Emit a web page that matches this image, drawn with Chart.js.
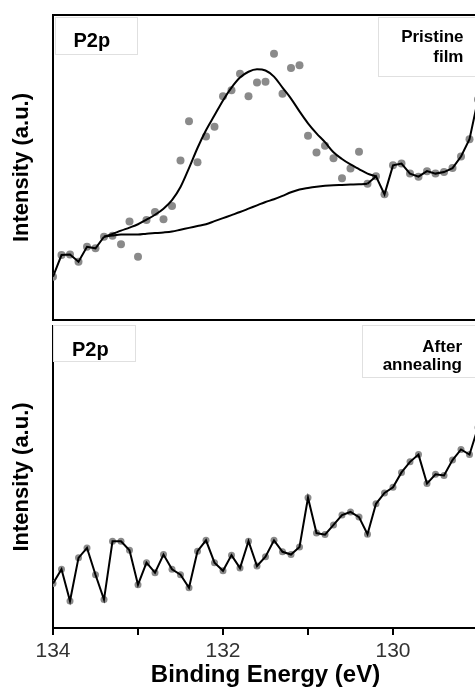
<!DOCTYPE html>
<html>
<head>
<meta charset="utf-8">
<script src="https://cdn.jsdelivr.net/npm/chart.js@4.4.1/dist/chart.umd.min.js"></script>
<style>
  html, body { margin: 0; padding: 0; background: #fff; }
  #wrap { position: relative; width: 475px; height: 689px; overflow: hidden;
          font-family: 'Liberation Sans', Arial, sans-serif; }
  canvas { position: absolute; left: 0; }
  #topPanel { top: 0; }
  #bottomPanel { top: 322px; }
  .box { position: absolute; border: 1px solid #e0e0e0; box-sizing: border-box; }
  .lbl { position: absolute; font-weight: bold; color: #000; white-space: nowrap; }
</style>
</head>
<body>
<div id="wrap">
  <canvas id="topPanel" width="482" height="324"></canvas>
  <canvas id="bottomPanel" width="482" height="367"></canvas>

  <div class="box" style="left:55px;top:17px;width:83px;height:38px"></div>
  <div class="lbl" style="left:73.5px;top:29.8px;font-size:20px;line-height:20px">P2p</div>
  <div class="box" style="left:378px;top:17px;width:100px;height:60px"></div>
  <div class="lbl" style="left:340px;width:123.5px;text-align:right;top:27.4px;font-size:17px;line-height:20px">Pristine<br>film</div>

  <div class="box" style="left:53px;top:325px;width:83px;height:37px"></div>
  <div class="lbl" style="left:72px;top:338.6px;font-size:20px;line-height:20px">P2p</div>
  <div class="box" style="left:362px;top:325px;width:116px;height:53px"></div>
  <div class="lbl" style="left:330px;width:132px;text-align:right;top:338.4px;font-size:17px;line-height:18px">After<br>annealing</div>
</div>

<script>
// Binding energy axis of the P 2p scan (eV), 0.1 eV steps
const energy = [
  134.0, 133.9, 133.8, 133.7, 133.6, 133.5, 133.4, 133.3, 133.2, 133.1,
  133.0, 132.9, 132.8, 132.7, 132.6, 132.5, 132.4, 132.3, 132.2, 132.1,
  132.0, 131.9, 131.8, 131.7, 131.6, 131.5, 131.4, 131.3, 131.2, 131.1,
  131.0, 130.9, 130.8, 130.7, 130.6, 130.5, 130.4, 130.3, 130.2, 130.1,
  130.0, 129.9, 129.8, 129.7, 129.6, 129.5, 129.4, 129.3, 129.2, 129.1,
  129.0
];

// Pristine film: measured intensity (a.u.)
const pristine = [
  14.2, 21.3, 21.5, 19.1, 24.0, 23.5, 27.3, 27.6, 24.8, 32.3,
  20.7, 32.8, 35.4, 33.0, 37.4, 52.3, 65.2, 51.7, 60.2, 63.4,
  73.4, 75.3, 80.7, 73.4, 77.9, 78.1, 87.3, 74.2, 82.6, 83.5,
  60.4, 54.9, 57.1, 53.0, 46.5, 49.7, 55.2, 44.7, 47.1, 41.2,
  50.7, 51.3, 48.0, 47.0, 48.8, 48.0, 48.5, 49.8, 53.6, 59.3,
  72.3
];

// Pristine film: fitted envelope and Shirley-type background
const fitEnvelope = [
  null, null, null, null, null, null, 27.3, 28.2, 29.3, 30.3,
  31.4, 32.9, 34.5, 36.5, 39.3, 43.6, 49.8, 56.4, 62.2, 67.1,
  72.0, 76.2, 79.5, 81.4, 82.2, 81.8, 79.8, 76.2, 72.6, 68.4,
  64.5, 61.2, 58.3, 55.0, 52.8, 51.0, 49.5, 48.0, 47.1, null,
  null, null, null, null, null, null, null, null, null, null,
  null
];
const fitBackground = [
  null, null, null, null, null, null, 27.3, 27.7, 28.0, 28.0,
  28.0, 28.3, 28.5, 28.7, 29.0, 29.6, 30.2, 30.8, 31.4, 32.4,
  33.4, 34.4, 35.4, 36.5, 37.6, 38.7, 39.6, 40.7, 41.9, 42.8,
  43.3, 43.7, 44.0, 44.2, 44.3, 44.4, 44.5, 44.7, null, null,
  null, null, null, null, null, null, null, null, null, null,
  null
];
// outside this index range the fit follows the raw trace
const fitStart = 6;
const fitEnd = 37;

// After annealing: measured intensity (a.u.)
const annealed = [
  14.7, 19.4, 8.9, 23.2, 26.5, 17.6, 9.4, 28.7, 28.7, 25.7,
  14.3, 21.6, 18.3, 24.3, 19.4, 17.6, 13.3, 25.4, 29.0, 21.6,
  18.9, 24.1, 19.8, 28.7, 20.5, 23.6, 29.0, 25.2, 24.3, 26.8,
  43.1, 31.4, 30.9, 34.1, 37.4, 38.4, 36.7, 31.0, 41.1, 44.7,
  46.6, 51.5, 55.0, 57.4, 47.8, 50.9, 50.5, 55.6, 59.1, 57.4,
  66.4
];

// Axis ticks
const tickEnergies = [134, 133, 132, 131, 130];
const tickLabels = ['134', '', '132', '', '130'];
const energyMin = 129.0;
const energyMax = 134;
const intensityMin = 0;
const intensityMax = 100;

const FONT = "'Liberation Sans', Arial, sans-serif";
const DOT = '#8a8a8a';

const pts = (xs, ys) => xs.map((x, i) => ({ x: x, y: ys[i] })).filter(p => p.y !== null);

function intensityAxis() {
  return {
    min: intensityMin, max: intensityMax,
    ticks: { display: false },
    grid: { display: false, drawTicks: false },
    border: { display: true, color: '#000', width: 2 },
    title: {
      display: true, text: 'Intensity (a.u.)', color: '#000',
      font: { family: FONT, size: 22, weight: 'bold' },
      padding: { top: 8.8, bottom: 17.8 }
    }
  };
}

function plainEnergyAxis(position) {
  return {
    type: 'linear', position: position, reverse: true,
    min: energyMin, max: energyMax,
    ticks: { display: false },
    grid: { display: false, drawTicks: false },
    border: { display: true, color: '#000', width: 2 }
  };
}

const baseOptions = {
  responsive: false,
  animation: false,
  events: [],
  plugins: { legend: { display: false }, tooltip: { enabled: false } }
};

// Upper panel: pristine film with peak fit
new Chart(document.getElementById('topPanel'), {
  type: 'line',
  data: {
    datasets: [
      { label: 'Envelope', data: pts(energy, fitEnvelope), borderColor: '#000', borderWidth: 2,
        pointRadius: 0, cubicInterpolationMode: 'monotone', fill: false },
      { label: 'Background', data: pts(energy, fitBackground), borderColor: '#000', borderWidth: 2,
        pointRadius: 0, cubicInterpolationMode: 'monotone', fill: false },
      { label: 'Trace', data: pts(energy, pristine), borderColor: '#000', borderWidth: 2,
        pointRadius: 0, fill: false,
        segment: { borderColor: ctx => (ctx.p0DataIndex < fitStart || ctx.p0DataIndex >= fitEnd) ? '#000' : 'rgba(0,0,0,0)' } },
      { label: 'Pristine film', data: pts(energy, pristine), showLine: false,
        pointRadius: 4, pointBackgroundColor: DOT, pointBorderWidth: 0 }
    ]
  },
  options: Object.assign({}, baseOptions, {
    layout: { padding: { top: 15, bottom: 2, left: 0, right: 0 } },
    scales: {
      x: plainEnergyAxis('bottom'),
      xTop: plainEnergyAxis('top'),
      y: intensityAxis()
    }
  })
});

// Lower panel: after annealing
new Chart(document.getElementById('bottomPanel'), {
  type: 'line',
  data: {
    datasets: [
      { label: 'Trace', data: pts(energy, annealed), borderColor: '#000', borderWidth: 2,
        pointRadius: 0, fill: false },
      { label: 'After annealing', data: pts(energy, annealed), showLine: false,
        pointRadius: 3.5, pointBackgroundColor: DOT, pointBorderWidth: 0 }
    ]
  },
  options: Object.assign({}, baseOptions, {
    layout: { padding: { top: 0, bottom: 0, left: 0, right: 0 } },
    scales: {
      x: {
        type: 'linear', position: 'bottom', reverse: true,
        min: energyMin, max: energyMax,
        afterBuildTicks: axis => { axis.ticks = tickEnergies.map(v => ({ value: v })); },
        ticks: {
          autoSkip: false, maxRotation: 0, padding: 5, color: '#333',
          font: { family: FONT, size: 21, lineHeight: 1.1 },
          callback: v => tickLabels[tickEnergies.indexOf(v)]
        },
        grid: { display: true, drawOnChartArea: false, drawTicks: true, tickLength: 7,
                color: '#000', lineWidth: 2 },
        border: { display: true, color: '#000', width: 2 },
        title: {
          display: true, text: 'Binding Energy (eV)', color: '#000',
          font: { family: FONT, size: 24, weight: 'bold', lineHeight: 1.0 },
          padding: { top: -5, bottom: 2 }
        }
      },
      y: intensityAxis()
    }
  })
});
</script>
</body>
</html>
